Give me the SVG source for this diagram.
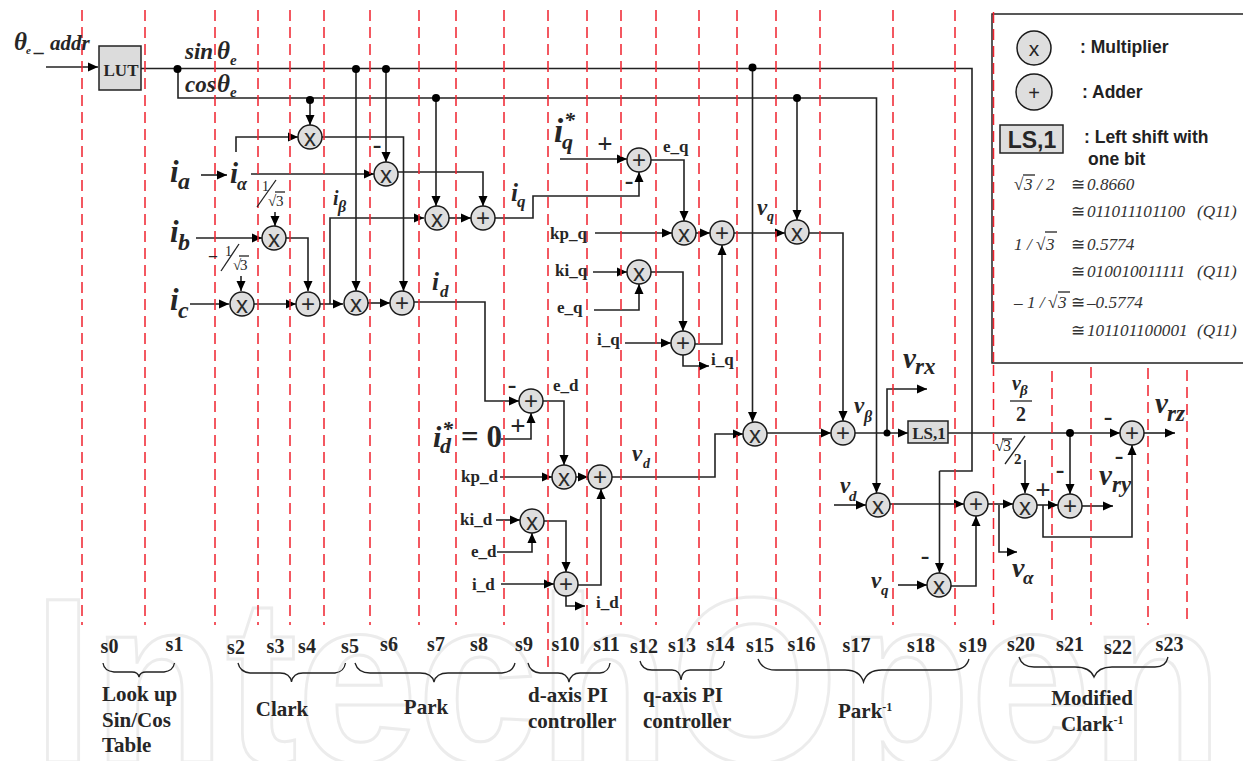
<svg xmlns="http://www.w3.org/2000/svg" width="1243" height="761" viewBox="0 0 1243 761">
<style>
.w{fill:none;stroke:#222;stroke-width:1.6}
.a{fill:none;stroke:#222;stroke-width:1.6;marker-end:url(#ah)}
.d{fill:none;stroke:#f0222e;stroke-width:1.5;stroke-dasharray:11 6}
.n{fill:#dedede;stroke:#1a1a1a;stroke-width:1.5}
.g{font-family:"Liberation Sans",Arial,sans-serif;font-size:24px;fill:#2a2a2a;text-anchor:middle}
.dot{fill:#000}
.br{fill:none;stroke:#222;stroke-width:1.3}
text{font-family:"Liberation Serif","Times New Roman",serif;fill:#262626}
.s{font-size:20px;font-weight:bold;text-anchor:middle}
.c{font-size:21px;font-weight:bold}
.m{font-size:17px;font-weight:bold}
.bi{font-weight:bold;font-style:italic}
.lg{font-family:"Liberation Sans",Arial,sans-serif;font-size:17.5px;font-weight:bold;fill:#222}
.le{font-style:italic;font-size:17.2px;fill:#333}
.mn{font-size:26px;font-weight:bold;text-anchor:middle}
.pl{font-size:27px;font-weight:bold;text-anchor:middle}
</style>
<defs>
<marker id="ah" markerUnits="userSpaceOnUse" markerWidth="11" markerHeight="10" refX="10" refY="5" orient="auto"><path d="M0 0.500L10 5L0 9.500Z" fill="#000"/></marker>
</defs>
<rect width="1243" height="761" fill="#fff"/>
<text x="33" y="762" font-size="235" font-weight="bold" style="font-family:'Liberation Sans',sans-serif;fill:#fff;stroke:#ececec;stroke-width:3" textLength="1190" lengthAdjust="spacingAndGlyphs">IntechOpen</text>
<g id="connectors">
<path class="a" d="M46 67H98"/>
<path class="w" d="M141 68.500H972V471H939.500"/>
<path class="a" d="M939.500 471V573"/>
<path class="a" d="M178 69V98H876.500V493"/>
<path class="a" d="M310 99V125"/>
<path class="a" d="M386 69V162"/>
<path class="a" d="M356 69V291"/>
<path class="a" d="M436 98V206"/>
<path class="a" d="M752.500 68V422"/>
<path class="a" d="M797 98V220"/>
<path class="a" d="M236 152V137H298"/>
<path class="a" d="M322 137H403.500V291"/>
<path class="a" d="M251 174H374"/>
<path class="a" d="M398 172H483V206"/>
<path class="a" d="M201 175H227"/>
<path class="a" d="M196 238H262"/>
<path class="a" d="M275 212V226"/>
<path class="a" d="M286 238H308V291"/>
<path class="a" d="M190 304H229"/>
<path class="a" d="M241 276V291"/>
<path class="a" d="M254 304H296"/>
<path class="a" d="M320 304H343"/>
<path class="a" d="M330 304V218H424"/>
<path class="a" d="M368 303H390"/>
<path class="a" d="M414 302H485V401H519"/>
<path class="a" d="M449 218H471"/>
<path class="a" d="M495 218H533V196H639V172"/>
<path class="a" d="M560 159H627"/>
<path class="a" d="M651 160H684V221"/>
<path class="a" d="M595 233H672"/>
<path class="a" d="M696 233H710"/>
<path class="a" d="M734 233H785"/>
<path class="a" d="M809 233H843V421"/>
<path class="a" d="M593 272H627"/>
<path class="a" d="M594 310H639V284"/>
<path class="a" d="M651 272H683V331"/>
<path class="a" d="M625 343H671"/>
<path class="a" d="M695 344H722V245"/>
<path class="a" d="M683 355V366H709"/>
<path class="a" d="M501 439H531V413"/>
<path class="a" d="M543 401H564V465"/>
<path class="a" d="M500 477H552"/>
<path class="a" d="M576 477H588"/>
<path class="a" d="M612 477H715V434H743"/>
<path class="a" d="M496 520H520"/>
<path class="a" d="M497 552H532V533"/>
<path class="a" d="M544 521H566V572"/>
<path class="a" d="M501 584H554"/>
<path class="a" d="M578 585H601V489"/>
<path class="a" d="M566 596V606H585"/>
<path class="a" d="M767 433H831"/>
<path class="a" d="M855 433H908"/>
<path class="a" d="M887 433V389H927"/>
<path class="a" d="M948 433H1120"/>
<path class="a" d="M1070 433V494"/>
<path class="a" d="M834 505H866"/>
<path class="a" d="M890 504H964"/>
<path class="a" d="M988 504H1013"/>
<path class="a" d="M999 505V552H1017"/>
<path class="a" d="M898 585H927"/>
<path class="a" d="M951 586H976V516"/>
<path class="a" d="M1025 460V493"/>
<path class="a" d="M1037 505H1058"/>
<path class="a" d="M1043 505V537H1132V445"/>
<path class="a" d="M1082 506H1113"/>
<path class="a" d="M1144 433H1175"/>
<circle class="dot" cx="177.500" cy="69" r="4"/><circle class="dot" cx="356" cy="69" r="4"/><circle class="dot" cx="386" cy="69" r="4"/><circle class="dot" cx="752.500" cy="67.500" r="4"/><circle class="dot" cx="310" cy="100" r="4"/><circle class="dot" cx="436" cy="98" r="4"/><circle class="dot" cx="797" cy="98" r="4"/><circle class="dot" cx="887" cy="433" r="3.500"/><circle class="dot" cx="1070" cy="433" r="4"/>
</g>
<g id="step-lines">
<path class="d" d="M82 10V625M145 10V625M215 10V625M258 10V625M290 10V625M324 10V625M370 10V625M419 10V625M456 10V625M504 10V625M548 10V672M587 10V625M621 10V625M656 10V625M699 10V625M737 10V625M776 10V625M820 10V625M893 10V625M955 10V625M993.500 365V625M1052 371V625M1091 367V625M1148 368V625M1187 370V625"/>
</g>
<g id="lut"><rect x="99" y="46" width="42" height="44" fill="#dcdcdc" stroke="#222" stroke-width="1.500"/><text x="121" y="76" font-size="17" font-weight="bold" text-anchor="middle">LUT</text></g>
<g id="x1"><circle class="n" cx="310" cy="137" r="12"/><text class="g" x="310" y="146">x</text></g>
<g id="x2"><circle class="n" cx="386" cy="174" r="12"/><text class="g" x="386" y="183">x</text></g>
<g id="x3"><circle class="n" cx="274" cy="238" r="12"/><text class="g" x="274" y="247">x</text></g>
<g id="x4"><circle class="n" cx="242" cy="304" r="12"/><text class="g" x="242" y="313">x</text></g>
<g id="a1"><circle class="n" cx="308" cy="304" r="12"/><text class="g" x="308" y="312">+</text></g>
<g id="x5"><circle class="n" cx="356" cy="303" r="12"/><text class="g" x="356" y="312">x</text></g>
<g id="a2"><circle class="n" cx="402" cy="303" r="12"/><text class="g" x="402" y="311">+</text></g>
<g id="x6"><circle class="n" cx="437" cy="218" r="12"/><text class="g" x="437" y="227">x</text></g>
<g id="a3"><circle class="n" cx="483" cy="218" r="12"/><text class="g" x="483" y="226">+</text></g>
<g id="a4"><circle class="n" cx="639" cy="160" r="12"/><text class="g" x="639" y="168">+</text></g>
<g id="x7"><circle class="n" cx="684" cy="233" r="12"/><text class="g" x="684" y="242">x</text></g>
<g id="a5"><circle class="n" cx="722" cy="233" r="12"/><text class="g" x="722" y="241">+</text></g>
<g id="x8"><circle class="n" cx="639" cy="272" r="12"/><text class="g" x="639" y="281">x</text></g>
<g id="a6"><circle class="n" cx="683" cy="343" r="12"/><text class="g" x="683" y="351">+</text></g>
<g id="x9"><circle class="n" cx="797" cy="232" r="12"/><text class="g" x="797" y="241">x</text></g>
<g id="a7"><circle class="n" cx="531" cy="401" r="12"/><text class="g" x="531" y="409">+</text></g>
<g id="x10"><circle class="n" cx="564" cy="477" r="12"/><text class="g" x="564" y="486">x</text></g>
<g id="a8"><circle class="n" cx="600" cy="477" r="12"/><text class="g" x="600" y="485">+</text></g>
<g id="x11"><circle class="n" cx="532" cy="521" r="12"/><text class="g" x="532" y="530">x</text></g>
<g id="a9"><circle class="n" cx="566" cy="584" r="12"/><text class="g" x="566" y="592">+</text></g>
<g id="x12"><circle class="n" cx="755" cy="434" r="12"/><text class="g" x="755" y="443">x</text></g>
<g id="a10"><circle class="n" cx="843" cy="433" r="12"/><text class="g" x="843" y="441">+</text></g>
<g id="ls"><rect x="908" y="421" width="40" height="22" fill="#dcdcdc" stroke="#222" stroke-width="1.500"/><text x="929" y="439" font-size="17" font-weight="bold" text-anchor="middle">LS,1</text></g>
<g id="x13"><circle class="n" cx="878" cy="505" r="12"/><text class="g" x="878" y="514">x</text></g>
<g id="a11"><circle class="n" cx="976" cy="504" r="12"/><text class="g" x="976" y="512">+</text></g>
<g id="x14"><circle class="n" cx="939" cy="585" r="12"/><text class="g" x="939" y="594">x</text></g>
<g id="x15"><circle class="n" cx="1025" cy="506" r="12"/><text class="g" x="1025" y="515">x</text></g>
<g id="a12"><circle class="n" cx="1070" cy="506" r="12"/><text class="g" x="1070" y="514">+</text></g>
<g id="a13"><circle class="n" cx="1132" cy="433" r="12"/><text class="g" x="1132" y="441">+</text></g>
<g id="legend">
<path fill="#fff" stroke="#222" stroke-width="1.500" d="M1243 14H992V363H1243"/>
<path class="d" d="M993.500 12V362"/>
<circle class="n" cx="1034" cy="48" r="17"/><text x="1034" y="56" style="font-family:'Liberation Sans',sans-serif;font-size:21px;text-anchor:middle">x</text>
<circle class="n" cx="1034" cy="92" r="18"/><text x="1034" y="100" style="font-family:'Liberation Sans',sans-serif;font-size:20px;text-anchor:middle">+</text>
<rect x="1000" y="125" width="63" height="28" fill="#dedede" stroke="#222" stroke-width="1.500"/><text x="1032" y="148" style="font-family:'Liberation Sans',sans-serif;font-size:23px;font-weight:bold;text-anchor:middle">LS,1</text>
<text class="lg" x="1080" y="53">: Multiplier</text>
<text class="lg" x="1082" y="98">: Adder</text>
<text class="lg" x="1084" y="143">: Left shift with</text>
<text class="lg" x="1088" y="165">one bit</text>
<text class="le" x="1014" y="190" style="font-style:normal">√</text><text class="le" x="1024" y="190">3 / 2</text><path class="br" d="M1023 175H1035"/>
<text class="le" x="1071" y="190" style="font-style:normal">≅</text><text class="le" x="1087" y="190">0.8660</text>
<text class="le" x="1071" y="217" style="font-style:normal">≅</text><text class="le" x="1087" y="217">011011101100<tspan x="1197">(Q11)</tspan></text>
<text class="le" x="1014" y="250">1 /</text><text class="le" x="1036" y="250" style="font-style:normal">√</text><text class="le" x="1046" y="250">3</text><path class="br" d="M1045 232H1057"/>
<text class="le" x="1071" y="250" style="font-style:normal">≅</text><text class="le" x="1087" y="250">0.5774</text>
<text class="le" x="1071" y="277" style="font-style:normal">≅</text><text class="le" x="1087" y="277">010010011111<tspan x="1197">(Q11)</tspan></text>
<text class="le" x="1014" y="308">– 1 /</text><text class="le" x="1048" y="308" style="font-style:normal">√</text><text class="le" x="1058" y="308">3</text><path class="br" d="M1058 292H1070"/>
<text class="le" x="1071" y="308" style="font-style:normal">≅</text><text class="le" x="1087" y="308">–0.5774</text>
<text class="le" x="1071" y="336" style="font-style:normal">≅</text><text class="le" x="1087" y="336">101101100001<tspan x="1197">(Q11)</tspan></text>
</g>
<g id="labels">
<text class="bi" x="14" y="50" font-size="25">θ</text><text class="bi" x="26" y="54" font-size="11">e</text><text class="bi" x="35" y="51" font-size="20">_</text><text class="bi" x="50" y="50" font-size="21">addr</text>
<text class="bi" x="185" y="59" font-size="23">sin</text><text class="bi" x="217" y="59" font-size="25">θ</text><text class="bi" x="230" y="65" font-size="15">e</text>
<text class="bi" x="185" y="92" font-size="23">cos</text><text class="bi" x="217" y="92" font-size="25">θ</text><text class="bi" x="230" y="97" font-size="15">e</text>
<text class="bi" x="170" y="182" font-size="31">i</text><text class="bi" x="178" y="189" font-size="24">a</text>
<text class="bi" x="230" y="183" font-size="29">i</text><text class="bi" x="237" y="190" font-size="18">α</text>
<text class="bi" x="170" y="242" font-size="31">i</text><text class="bi" x="178" y="250" font-size="24">b</text>
<text class="bi" x="170" y="310" font-size="31">i</text><text class="bi" x="178" y="318" font-size="24">c</text>
<text class="bi" x="333" y="205" font-size="20">i</text><text class="bi" x="338" y="212" font-size="16">β</text>
<text x="262" y="191" font-size="14">1</text><path class="br" d="M257 207L276 180"/><text x="268" y="206" font-size="15">√</text><text x="276" y="206" font-size="15">3</text><path class="br" d="M275 192H285"/>
<text x="209" y="261" font-size="16" font-weight="bold">–</text><text x="225" y="256" font-size="14">1</text><path class="br" d="M221 271L239 244"/><text x="233" y="270" font-size="15">√</text><text x="240" y="270" font-size="15">3</text><path class="br" d="M239 256H249"/>
<text class="bi" x="432" y="290" font-size="25">i</text><text class="bi" x="440" y="297" font-size="17">d</text>
<text class="bi" x="511" y="201" font-size="25">i</text><text class="bi" x="517" y="207" font-size="17">q</text>
<text class="bi" x="554" y="142" font-size="33">i</text><text class="bi" x="562" y="149" font-size="22">q</text><text class="bi" x="564" y="127" font-size="22">*</text>
<text class="pl" x="605" y="153">+</text>
<text class="mn" x="629" y="189">-</text>
<text class="mn" x="377" y="153">-</text>
<text class="m" x="663" y="152">e_q</text>
<text class="m" x="550" y="239">kp_q</text>
<text class="m" x="555" y="276">ki_q</text>
<text class="m" x="557" y="313">e_q</text>
<text class="m" x="597" y="345">i_q</text>
<text class="m" x="711" y="365">i_q</text>
<text class="bi" x="757" y="215" font-size="23">v</text><text class="bi" x="767" y="221" font-size="14">q</text>
<text class="bi" x="433" y="447" font-size="30">i</text><text class="bi" x="440" y="453" font-size="22">d</text><text class="bi" x="442" y="436" font-size="22">*</text>
<text x="461" y="447" font-size="31" font-weight="bold">= 0</text>
<text class="pl" x="518" y="435">+</text>
<text class="mn" x="512" y="393">-</text>
<text class="m" x="553" y="391">e_d</text>
<text class="m" x="461" y="482">kp_d</text>
<text class="m" x="460" y="525">ki_d</text>
<text class="m" x="471" y="557">e_d</text>
<text class="m" x="472" y="590">i_d</text>
<text class="m" x="596" y="608">i_d</text>
<text class="bi" x="632" y="461" font-size="23">v</text><text class="bi" x="643" y="468" font-size="14">d</text>
<text class="bi" x="854" y="413" font-size="23">v</text><text class="bi" x="864" y="422" font-size="16">β</text>
<text class="bi" x="903" y="368" font-size="29">v</text><text class="bi" x="915" y="374" font-size="23">rx</text>
<text class="bi" x="840" y="493" font-size="23">v</text><text class="bi" x="849" y="501" font-size="15">d</text>
<text class="bi" x="871" y="588" font-size="23">v</text><text class="bi" x="881" y="595" font-size="15">q</text>
<text class="mn" x="925" y="564">-</text>
<text class="bi" x="1012" y="577" font-size="28">v</text><text class="bi" x="1023" y="584" font-size="19">α</text>
<text class="bi" x="1012" y="390" font-size="20">v</text><text class="bi" x="1020" y="395" font-size="15">β</text><path class="br" d="M1010 401H1032"/>
<text x="1021" y="421" font-size="20" font-weight="bold" text-anchor="middle">2</text>
<text x="995" y="451" font-size="16">√</text><text x="1003" y="451" font-size="16">3</text><path class="br" d="M1002 439H1012"/><path class="br" d="M1005 464L1025 436"/><text x="1014" y="464" font-size="15" font-weight="bold">2</text>
<text class="pl" x="1043" y="499">+</text>
<text class="mn" x="1060" y="478">-</text>
<text class="mn" x="1108" y="425">-</text>
<text class="mn" x="1119" y="464">-</text>
<text class="bi" x="1099" y="485" font-size="29">v</text><text class="bi" x="1112" y="492" font-size="23">ry</text>
<text class="bi" x="1155" y="413" font-size="29">v</text><text class="bi" x="1167" y="421" font-size="23">rz</text>
</g>
<g id="stages">
<text class="s" x="109.500" y="653">s0</text><text class="s" x="174.500" y="651">s1</text><text class="s" x="236" y="654">s2</text><text class="s" x="275.500" y="653">s3</text><text class="s" x="307" y="653">s4</text><text class="s" x="350" y="653">s5</text><text class="s" x="389" y="651">s6</text><text class="s" x="436" y="651">s7</text><text class="s" x="479" y="651">s8</text><text class="s" x="524" y="651">s9</text><text class="s" x="565.500" y="651">s10</text><text class="s" x="606.500" y="651">s11</text><text class="s" x="644" y="653">s12</text><text class="s" x="682" y="652">s13</text><text class="s" x="720.500" y="651">s14</text><text class="s" x="760" y="652">s15</text><text class="s" x="801.500" y="651">s16</text><text class="s" x="856.500" y="652">s17</text><text class="s" x="921" y="652">s18</text><text class="s" x="973" y="652">s19</text><text class="s" x="1021" y="651">s20</text><text class="s" x="1070" y="651">s21</text><text class="s" x="1118" y="654">s22</text><text class="s" x="1169.500" y="651">s23</text>
<path class="br" d="M103 663Q104 671 114 672H132Q138 672 139 677Q140 672 146 672H164Q173 671 174.500 663"/>
<path class="br" d="M238 663Q240 672 250 673H280Q290 673 291.500 682Q293 673 303 673H335Q344 672 345.500 663"/>
<path class="br" d="M355 663Q358 673 370 673H420Q432 673 434 682Q436 673 448 673H502Q513 672 515 663"/>
<path class="br" d="M528 663Q530 672 540 673H558Q567 673 569 682Q571 673 580 673H600Q609 672 610 663"/>
<path class="br" d="M640 661Q642 670 652 670H672Q680 670 681 680Q682 670 690 670H714Q723 670 724.500 661"/>
<path class="br" d="M758 659Q762 670 776 670H845Q860 670 863.500 682Q867 670 882 670H952Q966 670 969 659"/>
<path class="br" d="M1019 657Q1022 667 1034 667H1075Q1090 667 1094 677Q1098 667 1112 667H1155Q1166 667 1168 657"/>
<text class="c" x="102" y="701">Look up</text><text class="c" x="102" y="727">Sin/Cos</text><text class="c" x="102" y="752">Table</text>
<text class="c" x="282" y="716" text-anchor="middle">Clark</text>
<text class="c" x="426" y="714" text-anchor="middle">Park</text>
<text class="c" x="528" y="702">d-axis PI</text><text class="c" x="528" y="728">controller</text>
<text class="c" x="643" y="702">q-axis PI</text><text class="c" x="643" y="728">controller</text>
<text class="c" x="838" y="718">Park<tspan font-size="12" dy="-7">-1</tspan></text>
<text class="c" x="1092" y="705" text-anchor="middle">Modified</text>
<text class="c" x="1061" y="731">Clark<tspan font-size="12" dy="-7">-1</tspan></text>
</g>
</svg>
